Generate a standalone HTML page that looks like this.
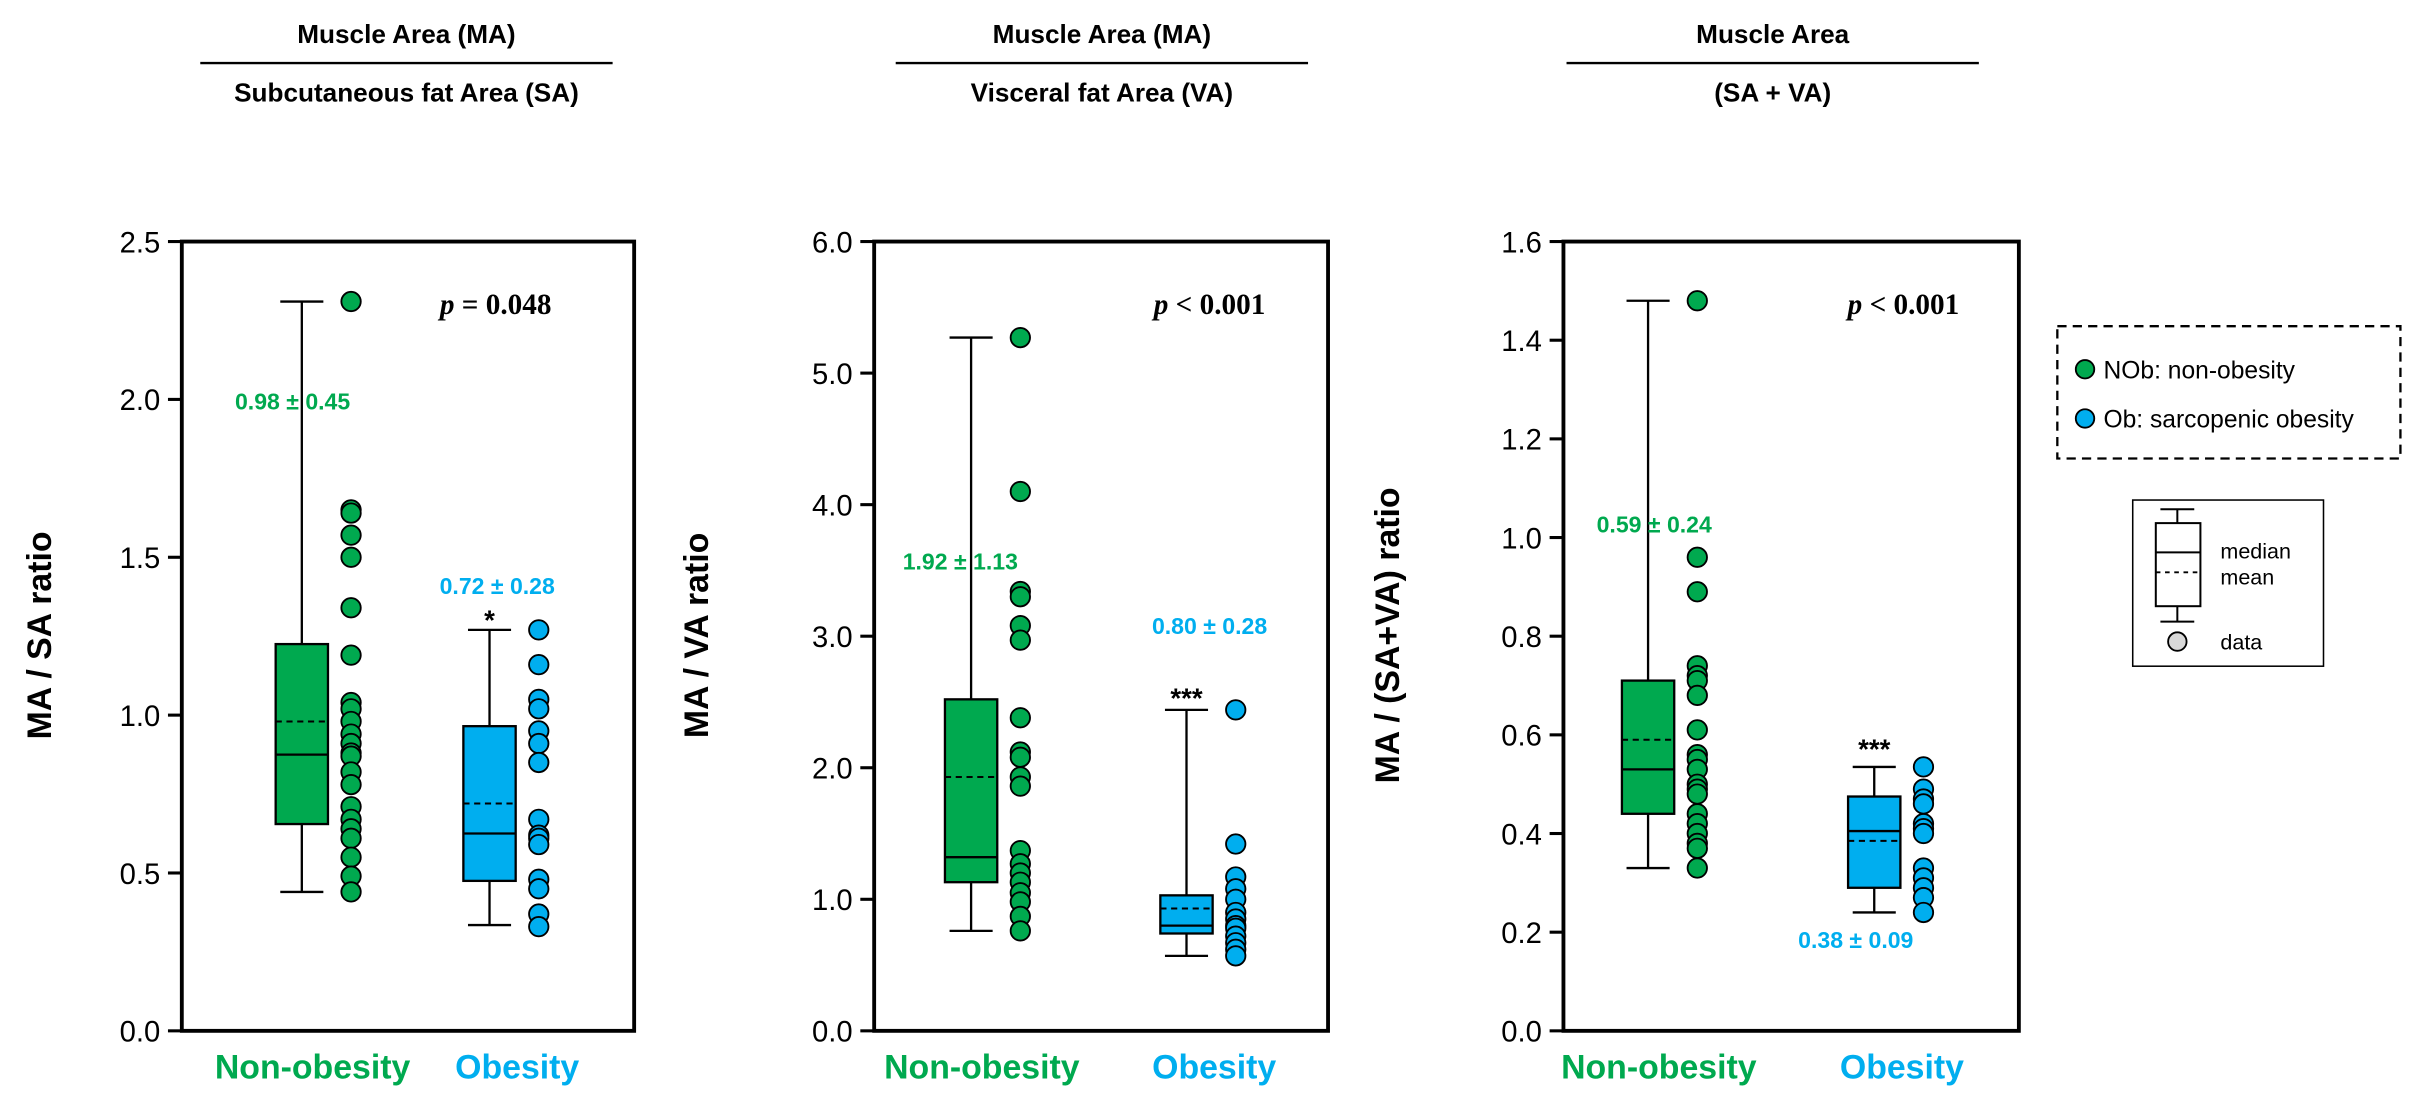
<!DOCTYPE html>
<html><head><meta charset="utf-8"><style>
html,body{margin:0;padding:0;background:#fff}
svg{display:block;font-family:"Liberation Sans",Arial,sans-serif}
</style></head><body>
<svg id="chart" width="2413" height="1097" viewBox="0 0 1568 713"></svg>
<script>
// Panel 1 data
const p1Cats = ["Non-obesity","Obesity"];
const p1Ticks = [0.0,0.5,1.0,1.5,2.0,2.5];
const p1NobBox = [0.44,0.655,0.875,1.225,2.31,0.98]; // wlo,q1,med,q3,whi,mean
const p1ObBox = [0.335,0.475,0.625,0.965,1.27,0.72];
const p1NobPts = [2.31,1.65,1.64,1.57,1.50,1.34,1.19,1.04,1.02,0.98,0.94,0.91,0.88,0.87,0.82,0.78,0.71,0.67,0.64,0.61,0.55,0.49,0.44];
const p1ObPts = [1.27,1.16,1.05,1.02,0.95,0.91,0.85,0.67,0.62,0.61,0.59,0.48,0.45,0.37,0.33];
// Panel 2 data
const p2Ticks = [0.0,1.0,2.0,3.0,4.0,5.0,6.0];
const p2NobBox = [0.76,1.13,1.32,2.52,5.27,1.93];
const p2ObBox = [0.57,0.74,0.80,1.03,2.44,0.93];
const p2NobPts = [5.27,4.10,3.34,3.30,3.08,2.97,2.38,2.12,2.08,1.93,1.86,1.37,1.27,1.20,1.13,1.05,0.98,0.87,0.76];
const p2ObPts = [2.44,1.42,1.17,1.08,1.00,0.90,0.85,0.80,0.78,0.72,0.67,0.62,0.57];
// Panel 3 data
const p3Ticks = [0.0,0.2,0.4,0.6,0.8,1.0,1.2,1.4,1.6];
const p3NobBox = [0.33,0.44,0.53,0.71,1.48,0.59];
const p3ObBox = [0.24,0.29,0.405,0.475,0.535,0.385];
const p3NobPts = [1.48,0.96,0.89,0.74,0.72,0.71,0.68,0.61,0.56,0.55,0.53,0.50,0.49,0.48,0.44,0.42,0.40,0.38,0.37,0.33];
const p3ObPts = [0.535,0.49,0.47,0.46,0.42,0.41,0.40,0.33,0.31,0.29,0.27,0.24];

const NS="http://www.w3.org/2000/svg";
const svg=document.getElementById('chart');
const G="#00a94f", B="#00aeef";
function mk(tag,attrs,parent,text){const e=document.createElementNS(NS,tag);for(const k in attrs)e.setAttribute(k,attrs[k]);if(text!==undefined)e.textContent=text;(parent||svg).appendChild(e);return e;}

function panel(cfg){
  const g=mk('g',{});
  
  
  const x0=cfg.x0,x1=cfg.x1,top=157,bot=670,max=cfg.ticks[cfg.ticks.length-1];
  const y=v=>bot-(v/max)*(bot-top);
  const t1=mk('text',{x:cfg.tc,y:28,'text-anchor':'middle','font-size':17,'font-weight':'bold'},g,cfg.t1);
  
  const tl=mk('line',{x1:cfg.tc-134,x2:cfg.tc+134,y1:41,y2:41,stroke:'#000','stroke-width':1.5},g);
  
  const t2=mk('text',{x:cfg.tc,y:66,'text-anchor':'middle','font-size':17,'font-weight':'bold'},g,cfg.t2);
  
  const fr=mk('rect',{x:x0,y:top,width:x1-x0,height:bot-top,fill:'none',stroke:'#000','stroke-width':2.5},g);
  
  cfg.ticks.forEach(v=>{
    const tk=mk('line',{x1:x0-9,x2:x0,y1:y(v),y2:y(v),stroke:'#000','stroke-width':2},g);
    
    const lb=mk('text',{x:x0-14,y:y(v)+7,'text-anchor':'end','font-size':19},g,v.toFixed(1));
    
  });
  const yl=mk('text',{transform:`translate(${cfg.ylx},413) rotate(-90)`,'text-anchor':'middle','font-size':22,'font-weight':'bold'},g,cfg.ylab);
  
  [[cfg.nob,cfg.nobPts,G,cfg.c1],[cfg.ob,cfg.obPts,B,cfg.c2]].forEach((gr,i)=>{
    const [bx,pts,col,c]=gr;
    const w1=mk('line',{x1:c,x2:c,y1:y(bx[0]),y2:y(bx[4]),stroke:'#000','stroke-width':1.5},g);
    
    [bx[0],bx[4]].forEach(v=>{const cap=mk('line',{x1:c-14,x2:c+14,y1:y(v),y2:y(v),stroke:'#000','stroke-width':1.5},g);
      });
    const r=mk('rect',{x:c-17,y:y(bx[3]),width:34,height:y(bx[1])-y(bx[3]),fill:col,stroke:'#000','stroke-width':1.5},g);
    
    const md=mk('line',{x1:c-17,x2:c+17,y1:y(bx[2]),y2:y(bx[2]),stroke:'#000','stroke-width':1.5},g);
    
    const mn=mk('line',{x1:c-17,x2:c+17,y1:y(bx[5]),y2:y(bx[5]),stroke:'#000','stroke-width':1.3,'stroke-dasharray':'4,3'},g);
    
    pts.forEach(v=>{const p=mk('circle',{cx:c+32,cy:y(v),r:6.3,fill:col,stroke:'#000','stroke-width':1.2},g);
      });
  });
  cfg.ann.forEach(a=>{const t=mk('text',{x:a[0],y:a[1],'text-anchor':'middle','font-size':a[4]||15,'font-weight':'bold',fill:a[3]},g,a[2]);
    });
  const pt=mk('text',{x:cfg.px,y:204,'text-anchor':'middle','font-size':19,'font-weight':'bold','font-family':'"Liberation Serif",serif'},g);
  
  mk('tspan',{'font-style':'italic'},pt,'p');mk('tspan',{},pt,cfg.ptxt);
  const cl1=mk('text',{x:cfg.c1+7,y:701,'text-anchor':'middle','font-size':22,'font-weight':'bold',fill:G},g,p1Cats[0]);
  
  const cl2=mk('text',{x:cfg.c2+18,y:701,'text-anchor':'middle','font-size':22,'font-weight':'bold',fill:B},g,p1Cats[1]);
  
}
panel({name:'panel-ma-sa',x0:118,x1:412,tc:264,t1:'Muscle Area (MA)',t2:'Subcutaneous fat Area (SA)',ticks:p1Ticks,ylx:33,ylab:'MA / SA ratio',
  c1:196,c2:318,nob:p1NobBox,ob:p1ObBox,nobPts:p1NobPts,obPts:p1ObPts,px:322,ptxt:' = 0.048',
  ann:[[190,266,'0.98 ± 0.45',G,15,'mean-sd-non-obesity'],[323,386,'0.72 ± 0.28',B,15,'mean-sd-obesity'],[318,409,'*','#000',18,'significance-marker']]});
panel({name:'panel-ma-va',x0:568,x1:863,tc:716,t1:'Muscle Area (MA)',t2:'Visceral fat Area (VA)',ticks:p2Ticks,ylx:460,ylab:'MA / VA ratio',
  c1:631,c2:771,nob:p2NobBox,ob:p2ObBox,nobPts:p2NobPts,obPts:p2ObPts,px:786,ptxt:' < 0.001',
  ann:[[624,370,'1.92 ± 1.13',G,15,'mean-sd-non-obesity'],[786,412,'0.80 ± 0.28',B,15,'mean-sd-obesity'],[771,460,'***','#000',18,'significance-marker']]});
panel({name:'panel-ma-sa-va',x0:1016,x1:1312,tc:1152,t1:'Muscle Area',t2:'(SA + VA)',ticks:p3Ticks,ylx:909,ylab:'MA / (SA+VA) ratio',
  c1:1071,c2:1218,nob:p3NobBox,ob:p3ObBox,nobPts:p3NobPts,obPts:p3ObPts,px:1237,ptxt:' < 0.001',
  ann:[[1075,346,'0.59 ± 0.24',G,15,'mean-sd-non-obesity'],[1206,616,'0.38 ± 0.09',B,15,'mean-sd-obesity'],[1218,493,'***','#000',18,'significance-marker']]});

// Legend
const lg=mk('g',{});


mk('rect',{x:1337,y:212,width:223,height:86,fill:'none',stroke:'#000','stroke-width':1.5,'stroke-dasharray':'6,4'},lg);
[[G,'NOb: non-obesity',240],[B,'Ob: sarcopenic obesity',272]].forEach(e=>{
  const en=mk('g',{},lg);
  
  
  mk('circle',{cx:1355,cy:e[2],r:6,fill:e[0],stroke:'#000','stroke-width':1.2},en);
  mk('text',{x:1367,y:e[2]+6,'font-size':16},en,e[1]);
});
const kg=mk('g',{});


mk('rect',{x:1386,y:325,width:124,height:108,fill:'#fff',stroke:'#000','stroke-width':1},kg);
mk('line',{x1:1415,x2:1415,y1:331,y2:404,stroke:'#000','stroke-width':1.3},kg);
mk('line',{x1:1404,x2:1426,y1:331,y2:331,stroke:'#000','stroke-width':1.3},kg);
mk('line',{x1:1404,x2:1426,y1:404,y2:404,stroke:'#000','stroke-width':1.3},kg);
mk('rect',{x:1401,y:340,width:29,height:54,fill:'#fff',stroke:'#000','stroke-width':1.3},kg);
mk('line',{x1:1401,x2:1430,y1:359,y2:359,stroke:'#000','stroke-width':1.3},kg);
mk('line',{x1:1401,x2:1430,y1:372,y2:372,stroke:'#000','stroke-width':1.2,'stroke-dasharray':'3,3'},kg);
mk('circle',{cx:1415,cy:417,r:6,fill:'#d9d9d9',stroke:'#000','stroke-width':1.2},kg);
mk('text',{x:1443,y:363,'font-size':14},kg,'median');
mk('text',{x:1443,y:380,'font-size':14},kg,'mean');
mk('text',{x:1443,y:422,'font-size':14},kg,'data');
</script>
</body></html>
